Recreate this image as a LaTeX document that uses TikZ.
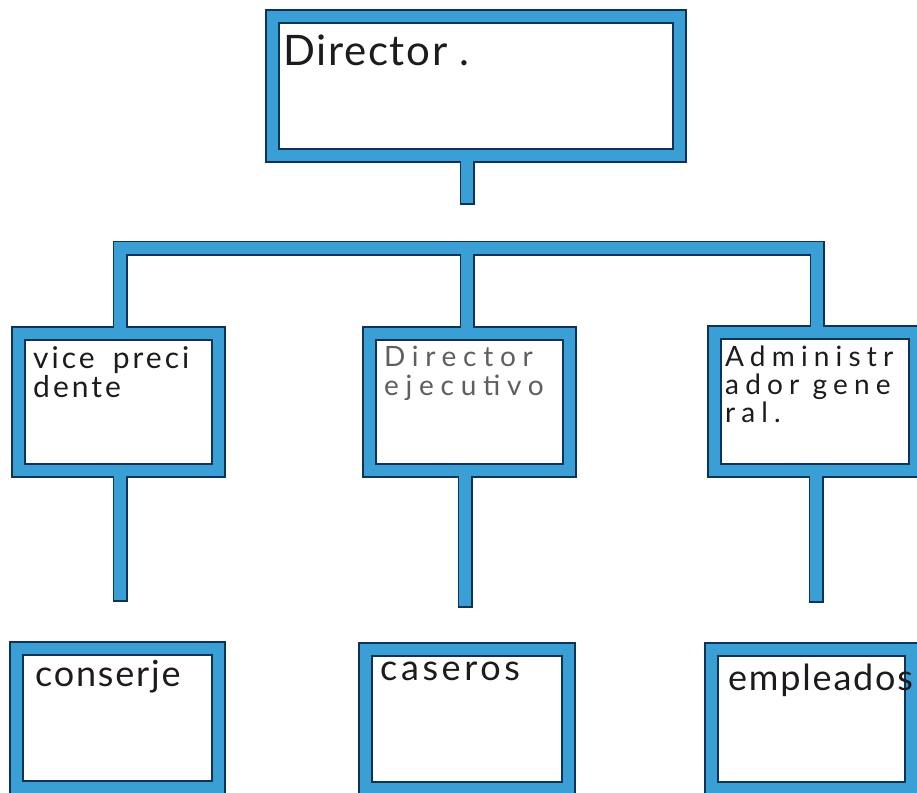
\documentclass[tikz,border=0pt]{standalone}
\usepackage{fontspec}
\setmainfont{Lato}
\usetikzlibrary{calc}
\definecolor{boxblue}{RGB}{58,159,213}
\definecolor{navy}{RGB}{14,50,88}
\definecolor{ink}{RGB}{28,28,28}
\definecolor{pencil}{RGB}{95,95,95}
\pgfdeclarelayer{bgL}
\pgfdeclarelayer{navyL}
\pgfdeclarelayer{blueL}
\pgfsetlayers{bgL,navyL,blueL,main}
\tikzset{
  navybox/.style={rectangle, draw=navy, fill=navy, line width=4pt, inner sep=0pt},
  bluebox/.style={rectangle, fill=boxblue, inner sep=0pt},
  whitebox/.style={rectangle, draw=navy, fill=white, line width=2pt, inner sep=0pt},
  connN/.style={draw=navy, line width=15pt},
  connB/.style={draw=boxblue, line width=12pt},
  hand/.style={anchor=north west, inner sep=0pt, text=ink, align=left},
}
\newcommand\orgbox[4]{%
  \begin{pgfonlayer}{navyL}
    \node[navybox, minimum width={#3pt-4pt}, minimum height={#4pt-4pt}] (#1) at (#2) {};
  \end{pgfonlayer}
  \begin{pgfonlayer}{blueL}
    \node[bluebox, minimum width={#3pt-4pt}, minimum height={#4pt-4pt}] at (#2) {};
  \end{pgfonlayer}
  \node[whitebox, minimum width={#3pt-28pt}, minimum height={#4pt-28pt}] (#1in) at (#2) {};
}
\begin{document}
\begin{tikzpicture}[x=1pt,y=-1pt]
\useasboundingbox (0,0) rectangle (917,792);
\begin{pgfonlayer}{bgL}
  \fill[white] (0,0) rectangle (917,792);
\end{pgfonlayer}
\clip (0,0) rectangle (917,792);

% boxes
\orgbox{dir}{476,86}{422}{154}
\orgbox{vp}{118,402}{215}{152}
\orgbox{de}{469.5,402}{215}{152}
\orgbox{ag}{815,401}{216}{153}
\orgbox{con}{117.5,718}{217}{154}
\orgbox{cas}{467,718.5}{218}{154}
\orgbox{emp}{811.5,719}{215}{154}

% free ends of the stems and the bar
\coordinate (dstem) at (467,203);
\coordinate (bar) at (467,248);
\coordinate (vpend) at (120,600);
\coordinate (deend) at (465,606);
\coordinate (agend) at (816,601);

% connectors: navy outline layer
\begin{pgfonlayer}{navyL}
  \draw[connN, shorten >=-1.5pt] (dstem |- dir.south) -- (dstem);
  \draw[connN] (vp.north -| 120,0) |- (bar) -| (ag.north -| 817,0);
  \draw[connN] (bar) -- (bar |- de.north);
  \draw[connN, shorten >=-1.5pt] (vpend |- vp.south) -- (vpend);
  \draw[connN, shorten >=-1.5pt] (deend |- de.south) -- (deend);
  \draw[connN, shorten >=-1.5pt] (agend |- ag.south) -- (agend);
\end{pgfonlayer}
% connectors: blue layer
\begin{pgfonlayer}{blueL}
  \draw[connB, shorten <=-4pt] (dstem |- dir.south) -- (dstem);
  \draw[connB, shorten <=-4pt, shorten >=-4pt] (vp.north -| 120,0) |- (bar) -| (ag.north -| 817,0);
  \draw[connB, shorten <=-4pt] (bar |- de.north) -- (bar);
  \draw[connB, shorten <=-4pt] (vpend |- vp.south) -- (vpend);
  \draw[connB, shorten <=-4pt] (deend |- de.south) -- (deend);
  \draw[connB, shorten <=-4pt] (agend |- ag.south) -- (agend);
\end{pgfonlayer}

% handwritten labels
\node[hand, font={\fontsize{42}{42}\selectfont\addfontfeature{LetterSpace=4}}] (t1) at (283,35)
  {Director .};
\node[hand, font={\fontsize{30}{29}\selectfont\addfontfeature{LetterSpace=10}}] (t2) at (33,346)
  {vice\hspace{18pt}preci\\dente};
\node[hand, text=pencil, font={\fontsize{28}{29}\selectfont\addfontfeature{LetterSpace=24}}] (t3) at (384,346)
  {Director\\ejecutivo};
\node[hand, font={\fontsize{28}{28}\selectfont\addfontfeature{LetterSpace=22}}] (t4) at (725,346)
  {Administr\\ador gene\\ral.};
\node[hand, font={\fontsize{36}{36}\selectfont\addfontfeature{LetterSpace=5}}] (t5) at (35,660)
  {conserje};
\node[hand, font={\fontsize{36}{36}\selectfont\addfontfeature{LetterSpace=10}}] (t6) at (380,662)
  {caseros};
\node[hand, font={\fontsize{36}{36}\selectfont\addfontfeature{LetterSpace=5}}] (t7) at (728,664)
  {empleados};
\end{tikzpicture}
\end{document}
